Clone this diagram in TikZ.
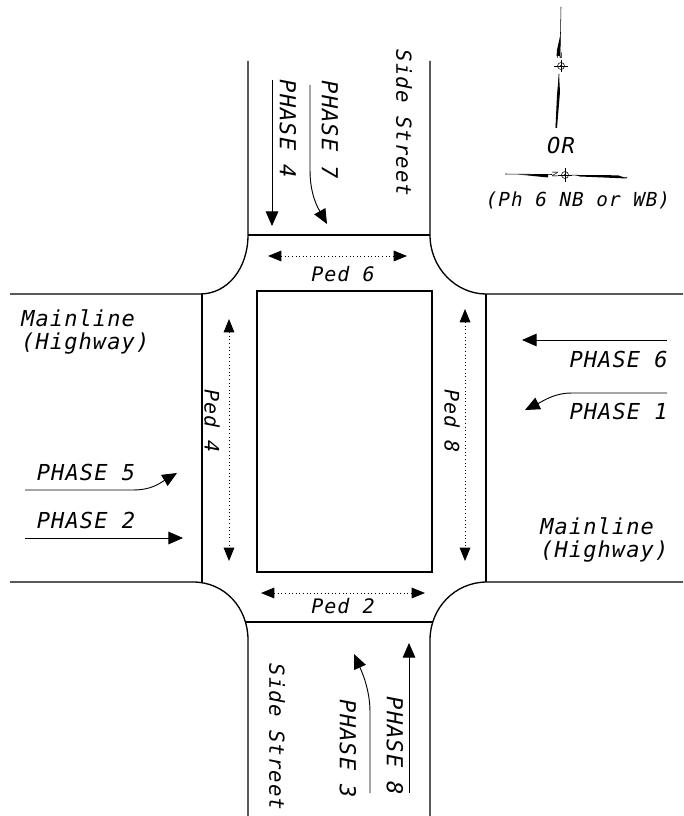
\documentclass[tikz,border=0pt]{standalone}
\usepackage{fontspec}
\usepackage{tikz}
\usetikzlibrary{arrows.meta}
\newfontfamily\cadfont{DejaVu Sans Mono}[LetterSpace=5]
\newcommand\cadsize[1]{\cadfont\itshape\fontsize{#1}{17.6}\selectfont}

\begin{document}
\begin{tikzpicture}[x=0.75pt, y=-0.75pt,
    road/.style={line width=1pt},
    movement/.style={line width=0.7pt, 
      -{Triangle[length=11pt, width=9.5pt]}},
    crossing/.style={line width=0.7pt, 
      dotted, 
      {Triangle[length=10pt, width=8pt]}-{Triangle[length=10pt, width=8pt]}},
    phaselabel/.style={inner sep=0pt, 
      font=\cadsize{16.5}},
    pedlabel/.style={inner sep=0pt, 
      font=\cadsize{15}},
    streetlabel/.style={inner sep=0pt, 
      align=left, 
      font=\cadsize{16.5}},
    needle/.style={line width=0.4pt}]
  \useasboundingbox (0,0) rectangle (683,816);

% ROADS

  \draw[road] (248,61) -- (248,235) 
    .. controls (248,268) and (228,294) .. (200,294) -- (10,294);
  \draw[road] (430,61) -- (430,235) 
    .. controls (430,268) and (456,294) .. (486,294) -- (683,294);
  \draw[road] (10,582) -- (193,582) 
    .. controls (225,582) and (248,608) .. (248,640) -- (248,816);
  \draw[road] (683,582) -- (487,582) 
    .. controls (455,582) and (430,608) .. (430,640) -- (430,816);

  % stop bars and crosswalk edges
  \draw[road] (248,235) -- (430,235);
  \draw[road] (245.3,622) -- (432.9,622);
  \draw[road] (202,294) -- (202,582);
  \draw[road] (486,294) -- (486,582);
  \draw[road] (257,291) rectangle (432,572);

% PEDESTRIAN PHASES

  \draw[crossing] (268,256) -- (407,256);
  \node[pedlabel] (pedsix) at (343,274) {Ped 6};

  \draw[crossing] (261,593) -- (425,593);
  \node[pedlabel] (pedtwo) at (343,606) {Ped 2};

  \draw[crossing] (229,319) -- (229,561);
  \node[pedlabel, rotate=-90] (pedfour) at (212,421) {Ped 4};

  \draw[crossing] (465,309) -- (465,561);
  \node[pedlabel, rotate=-90] (pedeight) at (452,421) {Ped 8};

% VEHICLE PHASES

  % side street, north
  \draw[movement] (272,80) -- (272,226);
  \node[phaselabel, rotate=-90] (phasefour) at (288,129) {PHASE 4};
  \draw[movement] (310,85) -- (310,170) 
    .. controls (310,195) and (318,208) .. (327,224);
  \node[phaselabel, rotate=-90] (phaseseven) at (330,130) {PHASE 7};
  \node[pedlabel, font=\cadsize{15.5}, rotate=-90] (sidestreetnorth) 
    at (404,123) {Side Street};

  % side street, south
  \draw[movement] (409,793) -- (409,643);
  \node[phaselabel, rotate=-90] (phaseeight) at (395,746) {PHASE 8};
  \draw[movement] (370,793) -- (370,712) 
    .. controls (370,690) and (362,672) .. (354,654);
  \node[phaselabel, rotate=-90] (phasethree) at (348,749) {PHASE 3};
  \node[pedlabel, font=\cadsize{15.5}, rotate=-90] (sidestreetsouth) 
    at (277,737) {Side Street};

  % mainline, west
  \node[streetlabel, anchor=west] (mainlinewest) at (21,332) 
    {Mainline\\(Highway)};
  \node[phaselabel] (phasefive) at (86,472) {PHASE 5};
  \draw[movement] (25,490) -- (133,490) 
    .. controls (152,490) and (160,483) .. (177,473);
  \node[phaselabel] (phasetwo) at (86,520) {PHASE 2};
  \draw[movement] (25,538) -- (183,538);

  % mainline, east
  \draw[movement] (667,340) -- (522,340);
  \node[phaselabel, anchor=east] (phasesix) at (668,359) {PHASE 6};
  \draw[movement] (667,393) -- (572,393) 
    .. controls (555,393) and (545,400) .. (525,410);
  \node[phaselabel, anchor=east] (phaseone) at (668,411) {PHASE 1};
  \node[streetlabel, anchor=west] (mainlineeast) at (540,540) 
    {Mainline\\(Highway)};

% NORTH ARROWS

  \draw[needle] (561,7) -- (560,58);
  \fill (560.5,34) -- (557,50) -- (556.5,56) -- (560,56) -- cycle;
  \node[inner sep=0pt, font=\sffamily\fontsize{6}{6}\selectfont] 
    (northup) at (559.5,56) {N};
  \draw[needle] (561,66) circle[radius=3.5];
  \fill (561,66) circle[radius=1.2];
  \draw[needle] (554,66) -- (568,66) (561,60) -- (561,72);
  \draw[needle] (559,74) -- (556,128);
  \fill (559,74) -- (560,92) -- (557,128) -- (555.5,128) -- (557,95) -- cycle;

  \node[phaselabel] (ortitle) at (561,145) {OR};

  \draw[needle] (505,174) -- (552,174.5);
  \fill (518,174.5) -- (548,174) -- (548,177.5) -- cycle;
  \node[inner sep=0pt, rotate=90, font=\sffamily\fontsize{6}{6}\selectfont] 
    (northleft) at (555,175) {N};
  \draw[needle] (565,175) circle[radius=3.5];
  \fill (565,175) circle[radius=1.2];
  \draw[needle] (558,175) -- (572,175) (565,168) -- (565,182);
  \draw[needle] (572,175) -- (627,177.5);
  \fill (575,175) -- (618,175.3) -- (627,178.5) -- (580,176.5) -- cycle;

  \node[inner sep=0pt, font=\cadsize{14.5}] (phnote) at (578,200) 
    {(Ph 6 NB or WB)};

\end{tikzpicture}
\end{document}
